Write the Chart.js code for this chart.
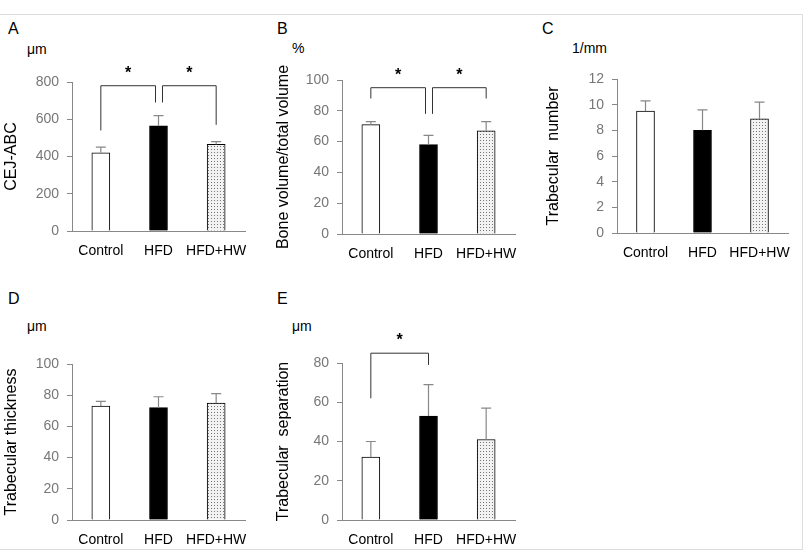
<!DOCTYPE html>
<html>
<head>
<meta charset="utf-8">
<script src="https://cdn.jsdelivr.net/npm/chart.js@4.4.1/dist/chart.umd.min.js"></script>
<style>
  body { margin: 0; width: 808px; height: 560px; background: #fff; position: relative; overflow: hidden;
         font-family: "Liberation Sans", Arial, sans-serif; }
  .frame { position: absolute; left: -1px; top: 14px; width: 802px; height: 534px; border: 1px solid #ddd; }
  .lbl { position: absolute; font-size: 16px; color: #000; }
  .unit { position: absolute; font-size: 14px; color: #000; }
  canvas { position: absolute; }
</style>
</head>
<body>
<div class="frame"></div>
<div class="lbl" style="left:8px;top:20px">A</div>
<div class="lbl" style="left:277px;top:20px">B</div>
<div class="lbl" style="left:542px;top:20px">C</div>
<div class="lbl" style="left:8px;top:290px">D</div>
<div class="lbl" style="left:277px;top:290px">E</div>
<div class="unit" style="left:27px;top:41px">μm</div>
<div class="unit" style="left:292px;top:40px">%</div>
<div class="unit" style="left:572px;top:40px">1/mm</div>
<div class="unit" style="left:27px;top:318px">μm</div>
<div class="unit" style="left:292px;top:318px">μm</div>

<canvas id="cA"></canvas>
<canvas id="cB"></canvas>
<canvas id="cC"></canvas>
<canvas id="cD"></canvas>
<canvas id="cE"></canvas>

<script>
// 数据
const groups = ['Control', 'HFD', 'HFD+HW'];

const cejMean = [420, 565, 465];
const cejSd = [30, 55, 15];
const bvMean = [71, 58, 67];
const bvSd = [2, 6, 6];
const tbnMean = [9.5, 8.0, 8.9];
const tbnSd = [0.8, 1.6, 1.3];
const tbthMean = [73, 72, 75];
const tbthSd = [3, 7, 6];
const tbspMean = [32, 53, 41];
const tbspSd = [8, 16, 16];

// 显著性标注: [起点组, 终点组, 顶部值, 左腿值, 右腿值]
const cejSig = [[0, 1, 780, 540, 690], [1, 2, 780, 690, 570]];
const bvSig = [[0, 1, 95, 88, 78], [1, 2, 95, 78, 88]];
const tbspSig = [[0, 1, 85, 62, 79]];

// 点状图案
function dotPattern() {
    const c = document.createElement('canvas');
    c.width = 3; c.height = 3;
    const g = c.getContext('2d');
    g.fillStyle = '#f2f2f2';
    g.fillRect(0, 0, 3, 3);
    g.fillStyle = '#777';
    g.fillRect(1, 1, 1, 1);
    return g.createPattern(c, 'repeat');
}

const errorBars = {
    id: 'errorBars',
    afterDatasetsDraw(chart, args, opts) {
        const ctx = chart.ctx;
        const y = chart.scales.y;
        const meta = chart.getDatasetMeta(0);
        ctx.save();
        ctx.strokeStyle = '#888';
        ctx.lineWidth = 1.2;
        opts.sd.forEach((sd, i) => {
            const bar = meta.data[i];
            const top = y.getPixelForValue(opts.mean[i] + sd);
            ctx.beginPath();
            ctx.moveTo(bar.x, bar.y);
            ctx.lineTo(bar.x, top);
            ctx.moveTo(bar.x - 5, top);
            ctx.lineTo(bar.x + 5, top);
            ctx.stroke();
        });
        // 显著性括号
        const x = chart.scales.x;
        ctx.strokeStyle = '#333';
        ctx.lineWidth = 1;
        ctx.fillStyle = '#000';
        ctx.font = 'bold 16px "Liberation Sans", Arial';
        ctx.textAlign = 'center';
        (opts.sig || []).forEach(s => {
            let x1 = x.getPixelForValue(s[0]);
            let x2 = x.getPixelForValue(s[1]);
            if (opts.sig.length > 1) {
                if (s[1] === 1) x2 -= 3;
                if (s[0] === 1) x1 += 4;
            }
            const yt = y.getPixelForValue(s[2]);
            ctx.beginPath();
            ctx.moveTo(x1, y.getPixelForValue(s[3]));
            ctx.lineTo(x1, yt);
            ctx.lineTo(x2, yt);
            ctx.lineTo(x2, y.getPixelForValue(s[4]));
            ctx.stroke();
            ctx.fillText('*', (x1 + x2) / 2, yt - 8);
        });
        ctx.restore();
    }
};

function makePanel(id, box, plot, title, mean, sd, max, step, sig) {
    const cv = document.getElementById(id);
    cv.style.left = box.x + 'px';
    cv.style.top = box.y + 'px';
    cv.style.width = box.w + 'px';
    cv.style.height = box.h + 'px';
    cv.width = box.w; cv.height = box.h;

    new Chart(cv.getContext('2d'), {
        type: 'bar',
        data: {
            labels: groups,
            datasets: [{
                data: mean,
                backgroundColor: ['#fff', '#000', dotPattern()],
                borderColor: '#000',
                borderWidth: 1,
                barThickness: 18
            }]
        },
        options: {
            responsive: false,
            animation: false,
            layout: { padding: { top: plot.t - box.y, right: box.x + box.w - plot.r, left: 0, bottom: 0 } },
            plugins: {
                legend: { display: false },
                tooltip: { enabled: false },
                errorBars: { mean, sd, sig }
            },
            scales: {
                x: {
                    grid: { display: false },
                    border: { color: '#888' },
                    ticks: { color: '#000', font: { size: 14, family: '"Liberation Sans", Arial' }, padding: 4, maxRotation: 0, autoSkip: false },
                    afterFit(s) { s.height = box.y + box.h - plot.b; }
                },
                y: {
                    min: 0, max,
                    ticks: { stepSize: step, color: '#777', font: { size: 14, family: '"Liberation Sans", Arial' }, padding: 8 },
                    grid: { drawOnChartArea: false, drawTicks: true, tickLength: 5, color: '#888' },
                    border: { color: '#888' },
                    title: { display: true, text: title, color: '#000', font: { size: 16, family: '"Liberation Sans", Arial' }, padding: 2 },
                    afterFit(s) { s.width = plot.l - box.x; }
                }
            }
        },
        plugins: [errorBars]
    });
}

makePanel('cA', { x: 0, y: 40, w: 270, h: 225 }, { l: 72, t: 82, r: 245, b: 231 }, 'CEJ-ABC', cejMean, cejSd, 800, 200, cejSig);
makePanel('cB', { x: 272, y: 40, w: 268, h: 225 }, { l: 342, t: 80, r: 515, b: 234 }, 'Bone volume/total volume', bvMean, bvSd, 100, 20, bvSig);
makePanel('cC', { x: 542, y: 40, w: 266, h: 225 }, { l: 617, t: 79, r: 788, b: 233 }, 'Trabecular  number', tbnMean, tbnSd, 12, 2, []);
makePanel('cD', { x: 0, y: 315, w: 270, h: 230 }, { l: 72, t: 364, r: 245, b: 520 }, 'Trabecular thickness', tbthMean, tbthSd, 100, 20, []);
makePanel('cE', { x: 272, y: 315, w: 268, h: 230 }, { l: 342, t: 363, r: 515, b: 520 }, 'Trabecular  separation', tbspMean, tbspSd, 80, 20, tbspSig);
</script>
</body>
</html>
